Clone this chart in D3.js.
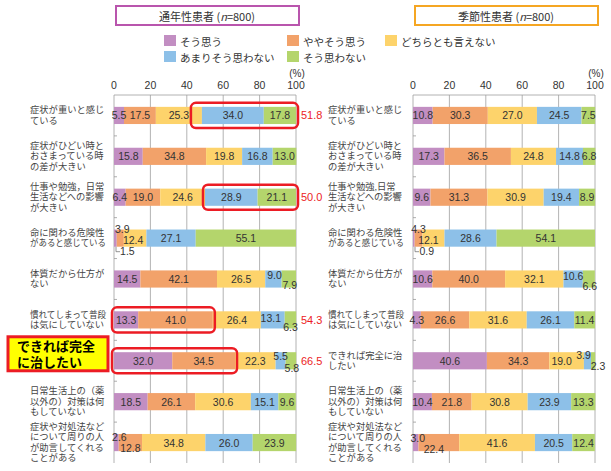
<!DOCTYPE html>
<html><head><meta charset="utf-8">
<script src="https://cdn.jsdelivr.net/npm/d3@7"></script>
<style>
body{margin:0;background:#fff;}
svg{display:block;}
text{font-family:"Noto Sans CJK JP","Noto Sans",sans-serif;}
.num{font-family:"Liberation Sans",Arial,sans-serif;}
.cat{font-family:"Liberation Sans","Noto Sans CJK JP",sans-serif;}
</style></head>
<body>
<svg id="c" width="611" height="471"></svg>
<script>
// ---- DATA ----
const seriesNames = ["そう思う","ややそう思う","どちらとも言えない","あまりそう思わない","そう思わない"];
const leftTitle = "通年性患者";
const rightTitle = "季節性患者";
const sampleN = "800";
const leftCategories = [
  ["症状が重いと感じ","ている"],
  ["症状がひどい時と","おさまっている時","の差が大きい"],
  ["仕事や勉強，日常","生活などへの影響","が大きい"],
  ["命に関わる危険性","があると感じている"],
  ["体質だから仕方が","ない"],
  ["慣れてしまって普段","は気にしていない"],
  [],
  ["日常生活上の（薬","以外の）対策は何","もしていない"],
  ["症状や対処法など","について周りの人","が助言してくれる","ことがある"]
];
const rightCategories = [
  ["症状が重いと感じ","ている"],
  ["症状がひどい時と","おさまっている時","の差が大きい"],
  ["仕事や勉強,日常","生活などへの影響","が大きい"],
  ["命に関わる危険性","があると感じている"],
  ["体質だから仕方が","ない"],
  ["慣れてしまって普段","は気にしていない"],
  ["できれば完全に治","したい"],
  ["日常生活上の（薬","以外の）対策は何","もしていない"],
  ["症状や対処法など","について周りの人","が助言してくれる","ことがある"]
];
const calloutLines = ["できれば完全","に治したい"];
const leftValues = [
  [5.5,17.5,25.3,34.0,17.8],
  [15.8,34.8,19.8,16.8,13.0],
  [6.4,19.0,24.6,28.9,21.1],
  [1.5,3.9,12.4,27.1,55.1],
  [14.5,42.1,26.5,9.0,7.9],
  [13.3,41.0,26.4,13.1,6.3],
  [32.0,34.5,22.3,5.5,5.8],
  [18.5,26.1,30.6,15.1,9.6],
  [2.6,12.8,34.8,26.0,23.9]
];
const rightValues = [
  [10.8,30.3,27.0,24.5,7.5],
  [17.3,36.5,24.8,14.8,6.8],
  [9.6,31.3,30.9,19.4,8.9],
  [0.9,4.3,12.1,28.6,54.1],
  [10.6,40.0,32.1,10.6,6.6],
  [4.3,26.6,31.6,26.1,11.4],
  [40.6,34.3,19.0,3.9,2.3],
  [10.4,21.8,30.8,23.9,13.3],
  [3.0,22.4,41.6,20.5,12.4]
];
const tickValues = [0,20,40,60,80,100];
// highlighted groups in left panel: row, first segment, last segment, total shown
const highlightRows = [0,2,5,6];
const highlightFrom = [3,3,0,0];
const highlightTo = [4,4,1,1];
const highlightTotals = ["51.8","50.0","54.3","66.5"];

// ---- STYLE ----
const colors = ["#c28ec2","#f2a26a","#fdd36b","#8dc0e8","#b4d56c"];
const svg = d3.select("#c");
const yTop = 95, yBot = 463;

// label nudges for small segments: [row, seg, dx, dy]
const leftNudges = [[3,1,2,-9],[3,0,12,13],[3,2,-2,2],[4,3,1,-4],[4,4,1,6],[5,3,-2,-2],[5,4,0,7],[6,3,0,-5],[6,4,1,7],[8,0,3,-6],[8,1,0,5]];
const rightNudges = [[3,1,0,-9],[3,0,13,13],[3,2,-5,2],[4,3,0,-3],[4,4,1,7],[6,2,-5,0],[6,3,-4,-6],[6,4,5,5],[8,0,2,-5],[8,1,-5,6]];
const leaderRow = 3;

function panel(x0, x1, cats, vals, labelX, nudges, boxColor, title) {
  const x = d3.scaleLinear().domain([0,100]).range([x0,x1]);
  const y = d3.scaleBand().domain(d3.range(vals.length)).range([yTop,yBot]).paddingInner(0.58).paddingOuter(0.29);
  const g = svg.append("g");
  g.append("rect").attr("x", x0+2).attr("y", 6).attr("width", x1-x0+1).attr("height", 19)
    .attr("fill","#fff").attr("stroke", boxColor).attr("stroke-width", 2);
  const t = g.append("text").attr("x",(x0+x1)/2+2).attr("y",16).attr("text-anchor","middle")
    .attr("dominant-baseline","central").attr("font-size",11).attr("fill","#333");
  t.append("tspan").text(title+" (");
  t.append("tspan").attr("font-style","italic").text("n");
  t.append("tspan").text("="+sampleN+")");
  g.selectAll(".grid").data(tickValues).join("line")
    .attr("x1",d=>x(d)).attr("x2",d=>x(d)).attr("y1",yTop).attr("y2",yBot)
    .attr("stroke","#a0a0a0").attr("stroke-width",0.8);
  g.append("line").attr("x1",x0).attr("x2",x1).attr("y1",yTop).attr("y2",yTop).attr("stroke","#a0a0a0").attr("stroke-width",0.8);
  const rowH = (yBot-yTop)/vals.length;
  g.selectAll(".rt").data(d3.range(1,vals.length)).join("line")
    .attr("x1",x0).attr("x2",x0+3).attr("y1",d=>yTop+rowH*d).attr("y2",d=>yTop+rowH*d)
    .attr("stroke","#999").attr("stroke-width",0.8);
  g.selectAll(".tl").data(tickValues).join("text").attr("class","num")
    .attr("x",d=>x(d)).attr("y",85).attr("text-anchor","middle").attr("dominant-baseline","central")
    .attr("font-size",10.5).attr("fill","#333").text(d=>d);
  g.append("text").attr("class","num").attr("x",x(100)+1).attr("y",73).attr("text-anchor","middle")
    .attr("dominant-baseline","central").attr("font-size",10).attr("fill","#333").text("(%)");
  const stacked = vals.map((row,i)=>{
    let c=0; return row.map((v,j)=>{const s={row:i,seg:j,v,a:c,b:c+v}; c+=v; return s;});
  });
  const rowsG = g.selectAll(".row").data(stacked).join("g");
  rowsG.selectAll("rect").data(d=>d).join("rect")
    .attr("x",d=>x(d.a)).attr("width",d=>x(d.b)-x(d.a))
    .attr("y",d=>y(d.row)).attr("height",y.bandwidth())
    .attr("fill",d=>colors[d.seg]);
  const nud = {};
  nudges.forEach(n=>nud[n[0]+"_"+n[1]]=[n[2],n[3]]);
  rowsG.selectAll("text").data(d=>d).join("text").attr("class","num")
    .attr("x",d=>x((d.a+d.b)/2)+((nud[d.row+"_"+d.seg]||[0,0])[0]))
    .attr("y",d=>y(d.row)+y.bandwidth()/2+((nud[d.row+"_"+d.seg]||[0,0])[1]))
    .attr("text-anchor","middle").attr("dominant-baseline","central")
    .attr("font-size",10.5).attr("fill","#333").text(d=>d.v.toFixed(1));
  const maxW = 76;
  cats.forEach((lines,i)=>{
    if (!lines.length) return;
    const cy = y(i)+y.bandwidth()/2;
    const lh = 10.4;
    const tx = g.append("text").attr("class","cat").attr("font-size",9.3).attr("fill","#444").attr("dominant-baseline","central");
    lines.forEach((ln,k)=>{
      const sp = tx.append("tspan").attr("x",labelX).attr("y",cy+(k-(lines.length-1)/2)*lh).text(ln);
      const w = sp.node().getComputedTextLength();
      if (w > maxW) sp.attr("textLength",maxW).attr("lengthAdjust","spacingAndGlyphs");
    });
  });
  return {x,y,stacked};
}

const L = panel(114,296,leftCategories,leftValues,30,leftNudges,"#b955ad",leftTitle);
const R = panel(413,595,rightCategories,rightValues,328,rightNudges,"#f5a623",rightTitle);

[L,R].forEach(P=>{
  const s = P.stacked[leaderRow][0];
  const bx = P.x(s.a)+2, by = P.y(leaderRow)+P.y.bandwidth();
  svg.append("path").attr("d",`M${bx},${by}V${by+5}H${bx+4}`).attr("fill","none").attr("stroke","#777").attr("stroke-width",0.8);
});

highlightRows.forEach((r,i)=>{
  const s = L.stacked[r];
  const xa = L.x(s[highlightFrom[i]].a), xb = L.x(Math.min(100,s[highlightTo[i]].b));
  const padL = (i===0)?11:2;
  svg.append("rect").attr("x",xa-padL).attr("y",L.y(r)-4).attr("width",xb-xa+padL+2)
    .attr("height",L.y.bandwidth()+8).attr("rx",5).attr("fill","none")
    .attr("stroke","#ec1c24").attr("stroke-width",2.5);
  svg.append("text").attr("class","num").attr("x",L.x(100)+5).attr("y",L.y(r)+L.y.bandwidth()/2)
    .attr("dominant-baseline","central").attr("font-size",11).attr("fill","#ec1c24").text(highlightTotals[i]);
});

const cy7 = L.y(6)+L.y.bandwidth()/2;
svg.append("rect").attr("x",8).attr("y",cy7-24).attr("width",100).attr("height",34)
  .attr("fill","#ffff00").attr("stroke","#ec1c24").attr("stroke-width",3);
const ct = svg.append("text").attr("class","cat").attr("font-size",13).attr("font-weight","bold").attr("fill","#000").attr("dominant-baseline","central");
calloutLines.forEach((ln,k)=>{
  ct.append("tspan").attr("x",17).attr("y",cy7-15+k*16).text(ln);
});

const legX = [164,287,385,164,287], legY = [35,35,35,51,51];
seriesNames.forEach((n,i)=>{
  svg.append("rect").attr("x",legX[i]).attr("y",legY[i]).attr("width",12).attr("height",11).attr("fill",colors[i]);
  svg.append("text").attr("x",legX[i]+16).attr("y",legY[i]+6).attr("dominant-baseline","central")
    .attr("font-size",10.5).attr("fill","#333").text(n);
});
</script>
</body></html>
